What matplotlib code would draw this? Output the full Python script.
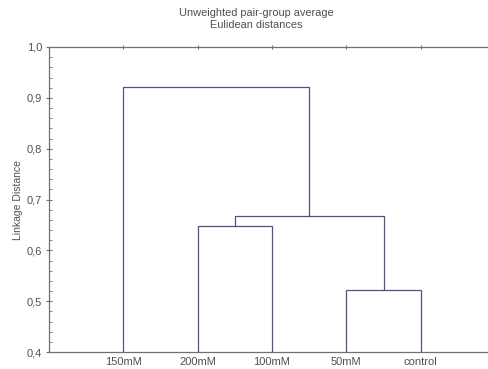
import matplotlib
matplotlib.use('Agg')
import matplotlib.pyplot as plt
from matplotlib.ticker import MultipleLocator

# leaf order along the x axis
labels = ['150mM', '200mM', '100mM', '50mM', 'control']
# merges: (left cluster, right cluster, linkage distance); new clusters get ids 5, 6, ...
merge_a = [3, 1, 6, 0]
merge_b = [4, 2, 5, 7]
heights = [0.522, 0.648, 0.668, 0.922]

line_col = '#50508a'
axis_col = '#707070'
text_col = '#505050'

plt.rcParams['font.family'] = ['Liberation Sans', 'DejaVu Sans']

fig = plt.figure(figsize=(4.88, 3.69), dpi=100)
ax = fig.add_axes([49 / 488, 17 / 369, 446 / 488, 305 / 369])

# x position and height of each node
xpos = {i: i + 1 for i in range(len(labels))}
ypos = {i: 0.4 for i in range(len(labels))}
for k, (a, b, h) in enumerate(zip(merge_a, merge_b, heights)):
    node = len(labels) + k
    ax.plot([xpos[a], xpos[a], xpos[b], xpos[b]], [ypos[a], h, h, ypos[b]],
            color=line_col, lw=0.9, solid_joinstyle='miter')
    xpos[node] = (xpos[a] + xpos[b]) / 2
    ypos[node] = h

ax.set_xlim(0, len(labels) + 1)
ax.set_ylim(0.4, 1.0)
ax.set_xticks(range(1, len(labels) + 1))
ax.set_xticklabels(labels)
ax.yaxis.set_major_locator(MultipleLocator(0.1))
ax.yaxis.set_minor_locator(MultipleLocator(0.02))
ax.set_yticklabels([f'{v:.1f}'.replace('.', ',') for v in ax.get_yticks()])

ax.tick_params(axis='x', which='both', bottom=False, top=True, direction='inout',
               length=3, width=0.8, color=axis_col, labelsize=8, labelcolor=text_col, pad=2)
ax.tick_params(axis='y', which='major', direction='inout', length=4, width=0.8,
               color=axis_col, labelsize=8, labelcolor=text_col, pad=3)
ax.tick_params(axis='y', which='minor', direction='in', length=2, width=0.6, color=axis_col)
for s in ax.spines.values():
    s.set_color(axis_col)
    s.set_linewidth(0.9)
ax.spines['right'].set_visible(False)

ax.set_ylabel('Linkage Distance', fontsize=7.5, color=text_col, labelpad=3)
fig.text(256 / 488, 1 - 19.5 / 369, 'Unweighted pair-group average\nEulidean distances',
         ha='center', va='center', fontsize=7.9, color=text_col, linespacing=1.25)

fig.savefig('out.png', dpi=100)
